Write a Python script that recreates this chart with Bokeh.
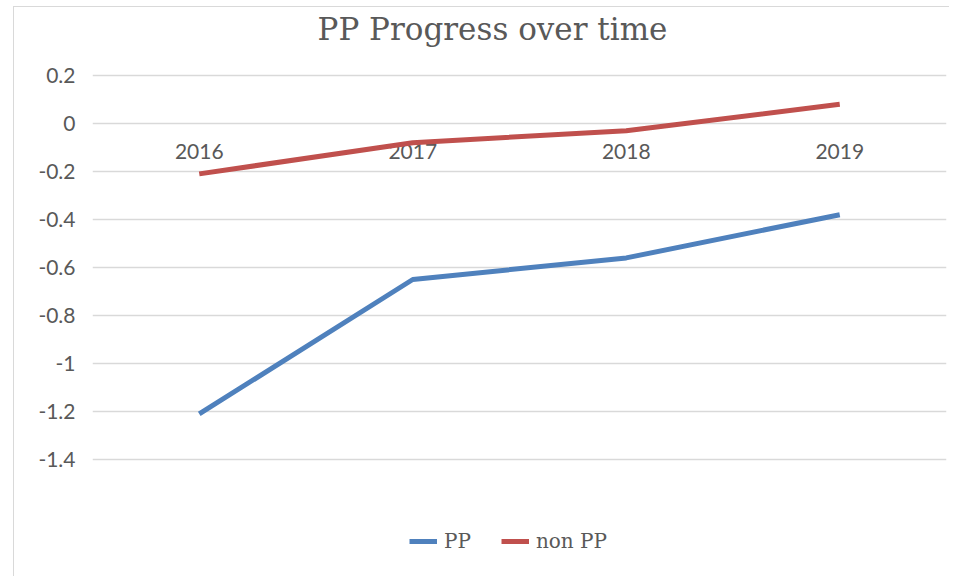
from bokeh.plotting import figure
from bokeh.models import FactorRange, Range1d, FixedTicker, Label, Legend, LegendItem
from bokeh.core.properties import value
from bokeh.embed import file_html
from bokeh.resources import INLINE

years = ["2016", "2017", "2018", "2019"]
pp = [-1.21, -0.65, -0.56, -0.38]
non_pp = [-0.21, -0.08, -0.03, 0.08]
y_ticks = [0.2, 0.0, -0.2, -0.4, -0.6, -0.8, -1.0, -1.2, -1.4]
y_tick_labels = ["0.2", "0", "-0.2", "-0.4", "-0.6", "-0.8", "-1", "-1.2", "-1.4"]
title_text = "PP Progress over time"

TEXT = "#595959"
GRID = "#d9d9d9"

p = figure(
    x_range=FactorRange(*years, range_padding=0),
    y_range=Range1d(-1.8917, 0.4833),
    width=936, height=570,
    output_backend="svg", toolbar_location=None,
    min_border_left=78, min_border_right=4, min_border_top=0, min_border_bottom=0,
    styles={"margin-left": "13px", "margin-top": "6px",
            "border-left": "1px solid #d9d9d9", "border-top": "1px solid #d9d9d9"},
)
p.outline_line_color = None
p.background_fill_color = "white"
p.border_fill_color = "white"
p.xaxis.visible = False

# grid
p.xgrid.grid_line_color = None
p.ygrid.grid_line_color = GRID
p.ygrid.grid_line_width = 1.5
p.yaxis.ticker = FixedTicker(ticks=y_ticks)
p.ygrid.ticker = FixedTicker(ticks=y_ticks)

# y axis
p.yaxis.major_label_overrides = {t: s for t, s in zip(y_ticks, y_tick_labels)}
p.yaxis.axis_line_color = None
p.yaxis.major_tick_line_color = None
p.yaxis.minor_tick_line_color = None
p.yaxis.major_label_text_font = "Lato"
p.yaxis.major_label_text_font_size = "21px"
p.yaxis.major_label_text_color = TEXT
p.yaxis.major_label_text_align = "left"
p.yaxis.major_label_standoff = 11

# category labels sitting under the zero line
p.text(x=years, y=[0] * len(years), text=years, y_offset=21,
       text_align="center", text_baseline="top",
       text_font=value("Lato"), text_font_size="21px", text_color=TEXT)

r1 = p.line(years, pp, line_color="#4F81BD", line_width=5, line_join="round")
r2 = p.line(years, non_pp, line_color="#C0504D", line_width=5, line_join="round")

# title
p.add_layout(Label(x=400, y=549, x_units="screen", y_units="screen", text=title_text,
                   text_align="center", text_baseline="middle",
                   text_font="DejaVu Serif", text_font_size="31px", text_color=TEXT))

legend = Legend(items=[LegendItem(label="PP", renderers=[r1]),
                       LegendItem(label="non PP", renderers=[r2])],
                orientation="horizontal", location=(317, 24),
                glyph_width=28, glyph_height=20, label_standoff=7, spacing=30,
                padding=0, margin=0, border_line_color=None, background_fill_alpha=0,
                label_text_font="DejaVu Serif", label_text_font_size="20px",
                label_text_color=TEXT)
p.add_layout(legend)

open("out.html", "w").write(file_html(p, INLINE))
